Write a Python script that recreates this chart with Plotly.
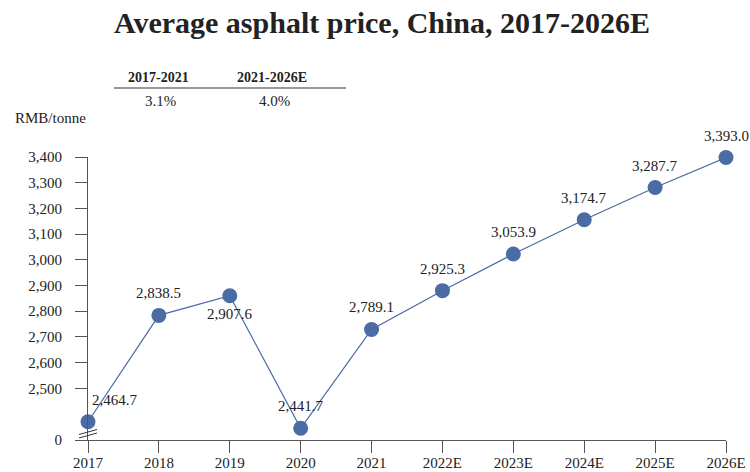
import plotly.graph_objects as go

# ---- data ----
years = ["2017", "2018", "2019", "2020", "2021", "2022E", "2023E", "2024E", "2025E", "2026E"]
prices = [2464.7, 2838.5, 2907.6, 2441.7, 2789.1, 2925.3, 3053.9, 3174.7, 3287.7, 3393.0]
cagr_periods = ["2017-2021", "2021-2026E"]
cagr_values = ["3.1%", "4.0%"]
y_tick_labels = [2500, 2600, 2700, 2800, 2900, 3000, 3100, 3200, 3300, 3400]

# ---- broken axis geometry (as drawn in the original chart) ----
AX_BOTTOM = 2400.6   # value at the axis break baseline (labelled "0")
AX_TOP = 3395.0      # value at the top of the axis
TICK_START = 2582.1  # where the "2,500" label sits
TICK_STEP = 90.32    # spacing of the 100-step labels

tick_vals = [AX_BOTTOM] + [TICK_START + i * TICK_STEP for i in range(len(y_tick_labels))]
tick_text = ["0"] + [f"{v:,}" for v in y_tick_labels]

W, H = 750, 472
L, R, T, B = 88, 24, 157, 32
PW, PH = W - L - R, H - T - B

def px(x):
    return (x - L) / PW

def py(y):
    return (H - B - y) / PH

FONT = "Liberation Serif, Times New Roman, serif"
TXT = "#222222"
BLUE = "#4a6ba3"
AXC = "#555555"

fig = go.Figure()
fig.add_trace(go.Scatter(
    x=years, y=prices, mode="lines+markers",
    line=dict(color=BLUE, width=1.2),
    marker=dict(color=BLUE, size=15),
    cliponaxis=False, hoverinfo="skip", showlegend=False,
))

annotations = []
# data labels (x given as category index so "2017" is not read as a number)
for i, (yr, v) in enumerate(zip(years, prices)):
    xs, ys = 0, 22
    if i == 0:
        xs = 27
    if yr == "2019":
        ys = -18
    annotations.append(dict(
        x=i, y=v, xref="x", yref="y", text=f"{v:,.1f}", showarrow=False,
        xshift=xs, yshift=ys, xanchor="center", yanchor="middle",
        font=dict(family=FONT, size=15, color=TXT),
    ))

# CAGR table
cagr_x = [158, 272]
for cx, period, val in zip(cagr_x, cagr_periods, cagr_values):
    annotations.append(dict(x=px(cx), y=py(77), xref="paper", yref="paper",
                            text=f"<b>{period}</b>", showarrow=False,
                            xanchor="center", yanchor="middle",
                            font=dict(family=FONT, size=14, color=TXT)))
    annotations.append(dict(x=px(cx + 2), y=py(101), xref="paper", yref="paper",
                            text=val, showarrow=False,
                            xanchor="center", yanchor="middle",
                            font=dict(family=FONT, size=15, color=TXT)))

# unit label
annotations.append(dict(x=px(13), y=py(118), xref="paper", yref="paper",
                        text="RMB/tonne", showarrow=False,
                        xanchor="left", yanchor="middle",
                        font=dict(family=FONT, size=15, color=TXT)))

shapes = [
    dict(type="line", xref="paper", yref="paper", x0=px(114), x1=px(346),
         y0=py(88), y1=py(88), line=dict(color="#333333", width=1)),
    dict(type="line", xref="paper", yref="paper", x0=px(79), x1=px(97),
         y0=py(434.5), y1=py(429.5), line=dict(color="#333333", width=1)),
    dict(type="line", xref="paper", yref="paper", x0=px(79), x1=px(97),
         y0=py(438), y1=py(433), line=dict(color="#333333", width=1)),
]

fig.update_layout(
    width=W, height=H,
    margin=dict(l=L, r=R, t=T, b=B, autoexpand=False),
    paper_bgcolor="white", plot_bgcolor="white",
    title=dict(text="<b>Average asphalt price, China, 2017-2026E</b>",
               x=382 / W, xanchor="center", y=1 - 22 / H, yanchor="middle",
               yref="container", font=dict(family=FONT, size=30, color=TXT)),
    xaxis=dict(type="category", range=[0, len(years) - 1], showgrid=False,
               automargin=False,
               showline=True, linecolor=AXC, linewidth=1,
               ticks="outside", ticklen=12, tickcolor=AXC, tickwidth=1,
               ticklabelstandoff=-3,
               tickfont=dict(family=FONT, size=15, color=TXT), zeroline=False),
    yaxis=dict(range=[AX_BOTTOM, AX_TOP], showgrid=False, zeroline=False,
               automargin=False,
               showline=True, linecolor=AXC, linewidth=1,
               tickmode="array", tickvals=tick_vals, ticktext=tick_text,
               ticks="outside", ticklen=12, tickcolor=AXC, tickwidth=1,
               ticklabelstandoff=10,
               tickfont=dict(family=FONT, size=15, color=TXT)),
    annotations=annotations, shapes=shapes,
)

fig.write_html("out.html", config={"displayModeBar": False},
               post_script="document.body.style.margin='0';document.body.style.overflow='hidden';")
